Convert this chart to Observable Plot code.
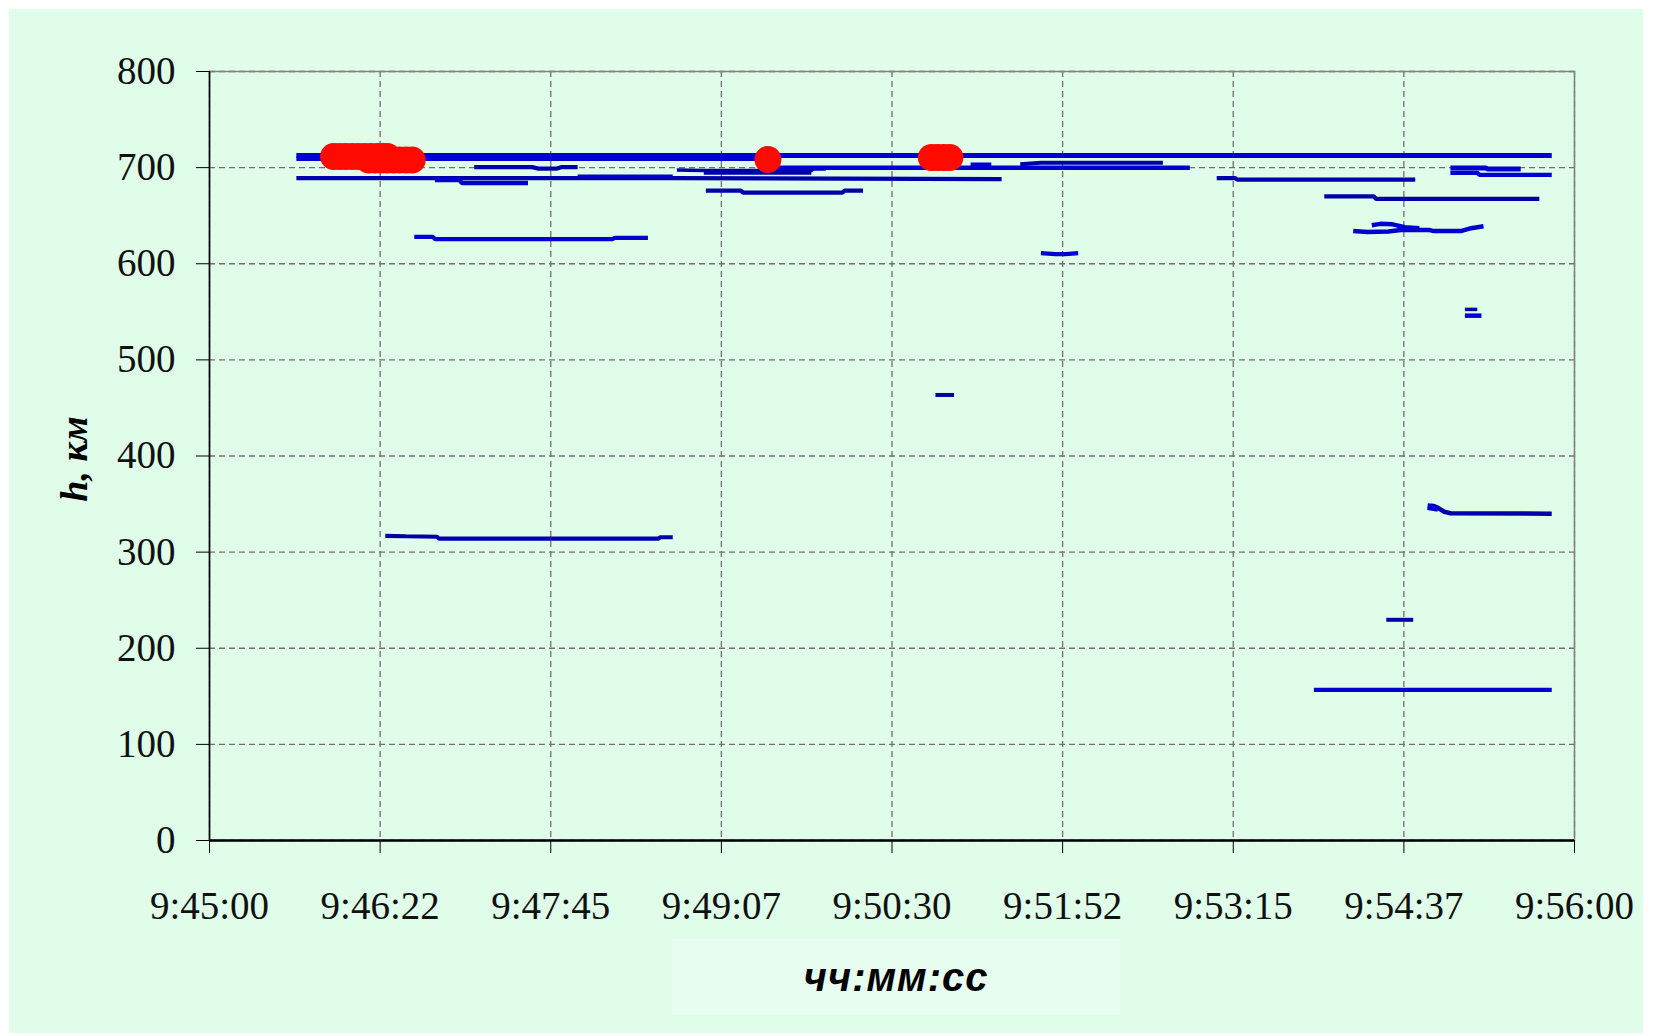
<!DOCTYPE html>
<html>
<head>
<meta charset="utf-8">
<script src="https://cdn.jsdelivr.net/npm/d3@7"></script>
<script src="https://cdn.jsdelivr.net/npm/@observablehq/plot@0.6"></script>
<style>
  html, body { margin: 0; padding: 0; background: #ffffff; }
  #wrap { position: relative; width: 1654px; height: 1036px; overflow: hidden; }
  #bg { position: absolute; left: 9px; top: 9px; width: 1634px; height: 1024px; background: #dffde8; }
  #xbox { position: absolute; left: 672px; top: 939px; width: 448px; height: 76px; background: #e6fdef; }
  #chart { position: absolute; left: 0; top: 0; }
  #xtitle { position: absolute; left: 672px; top: 939px; width: 448px; height: 76px;
    display: flex; align-items: center; justify-content: center; letter-spacing: 1px;
    font: italic bold 40px "Liberation Sans", Arial, sans-serif; color: #000; }
  #ytitle { position: absolute; left: 74px; top: 459px; transform: translate(-50%, -50%) rotate(-90deg);
    white-space: nowrap; font: italic bold 38px "Liberation Serif", "Times New Roman", serif; color: #000; }
</style>
</head>
<body>
<div id="wrap">
  <div id="bg"></div>
  <div id="xbox"></div>
  <div id="chart"></div>
  <div id="xtitle">чч:мм:сс</div>
  <div id="ytitle">h, км</div>
</div>
<script>
// ---- axis ticks (time in seconds after 9:45:00) ----
const xTickValues = [0, 82.5, 165, 247.5, 330, 412.5, 495, 577.5, 660];
const xTickLabels = ["9:45:00", "9:46:22", "9:47:45", "9:49:07", "9:50:30", "9:51:52", "9:53:15", "9:54:37", "9:56:00"];
const yTickValues = [0, 100, 200, 300, 400, 500, 600, 700, 800];

// ---- blue tracks: [seconds after 9:45:00, height km] ----
const trackTop713 = [[42, 712.7], [649, 712.7]];
const trackTop709 = [[42, 709.3], [266, 709.3]];
const track700a   = [[128, 700.5], [156, 700.5], [159, 699], [168, 699], [170, 700.5], [178, 700.5]];
const track697    = [[226, 697.5], [239, 697], [291, 697], [292, 698.5], [298, 698.5]];
const track694    = [[239, 694.5], [291, 694.5]];
const track700b   = [[274, 700], [474, 700]];
const track703    = [[368, 703], [378, 703]];
const track705    = [[392, 703.5], [402, 705], [461, 705]];
const track689    = [[42, 689], [178, 689], [224, 689], [383, 688]];
const track691    = [[178, 691], [224, 691]];
const track685    = [[109, 687], [121, 687], [122, 684], [154, 684]];
const track675    = [[240, 676], [257, 676], [258, 674], [306, 674], [307, 676], [316, 676]];
const track626    = [[99, 628], [108, 628], [109, 625.7], [195, 625.7], [196, 627], [212, 627]];
const track315    = [[85, 317], [95, 316.5], [110, 316], [111, 314], [217, 314], [218, 315.5], [224, 315.5]];
const track610    = [[402, 611], [409, 610], [414, 610], [420, 611]];
const track463    = [[351, 463.5], [360, 463.5]];
const track688r   = [[487, 689], [496, 689], [497, 687.5], [583, 687.5]];
const track699r   = [[600, 699.5], [617, 699.5], [618, 698.5], [634, 698.5]];
const track693r   = [[600, 694.5], [613, 694.5], [614, 692.5], [649, 692.5]];
const track670r   = [[539, 670], [563, 670], [564, 667.5], [643, 667.5]];
const track636    = [[553, 634], [560, 633], [570, 633.5], [576, 635], [590, 635], [592, 634], [605, 634], [610, 637], [616, 639]];
const track641    = [[562, 640], [566, 641.5], [572, 641], [578, 638], [585, 637]];
const track552    = [[607, 552.5], [613, 552.5]];
const track546    = [[607, 546], [615, 546]];
const track340    = [[589, 348.5], [592, 348], [594, 346], [597, 342], [600, 340.5], [649, 340]];
const track340b   = [[589, 347], [594, 345]];
const track230    = [[569, 229.6], [582, 229.6]];
const track157    = [[534, 156.7], [649, 156.7]];

// ---- red points: [seconds after 9:45:00, height km] ----
const redPoints = [
  [60, 711.5], [63, 711.5], [66, 711.5], [69, 711.5], [72, 711.5], [75, 711.5], [78, 711.5], [81, 711.5], [84, 711.5], [86, 711.5],
  [77, 708], [80, 708], [83, 708], [86, 708], [89, 708], [92, 708], [95, 708], [98, 708],
  [270, 708.5],
  [349, 710.5], [352, 710.5], [355, 710.5], [358, 710.5]
];

// ---- styles (kept apart from data) ----
const BLUE = "#0000d2", NAVY = "#0000aa";
const trackStyles = [
  [trackTop713, 5, BLUE], [trackTop709, 4.5, BLUE],
  [track700a, 4.2, NAVY], [track697, 3.5, NAVY], [track694, 3.5, NAVY],
  [track700b, 4.5, BLUE], [track703, 4.5, BLUE], [track705, 4, NAVY],
  [track689, 4.2, NAVY], [track691, 3.5, BLUE], [track685, 4.5, BLUE],
  [track675, 4.2, NAVY], [track626, 4.2, BLUE], [track315, 4.2, NAVY],
  [track610, 4.2, BLUE], [track463, 4, NAVY], [track688r, 4.2, NAVY],
  [track699r, 5, BLUE], [track693r, 4.2, BLUE], [track670r, 4.2, NAVY],
  [track636, 4.5, BLUE], [track641, 4.5, BLUE], [track552, 3.5, NAVY], [track546, 4.5, BLUE],
  [track340, 4.5, NAVY], [track340b, 6, BLUE], [track230, 4, NAVY], [track157, 4.2, BLUE]
];

const lineMarks = trackStyles.map(([pts, w, c]) =>
  Plot.line(pts, {x: d => d[0], y: d => d[1], stroke: c, strokeWidth: w, strokeLinecap: "butt", strokeLinejoin: "miter"})
);

const chart = Plot.plot({
  width: 1654,
  height: 1036,
  marginLeft: 209,
  marginRight: 80,
  marginTop: 71,
  marginBottom: 196,
  x: {domain: [0, 660]},
  y: {domain: [0, 800]},
  style: {background: "transparent", fontFamily: "'Liberation Serif', 'Times New Roman', serif", fontSize: "39px", color: "#111"},
  marks: [
    Plot.gridX(xTickValues, {stroke: "#707070", strokeOpacity: 1, strokeWidth: 1.3, strokeDasharray: "6,4"}),
    Plot.gridY(yTickValues, {stroke: "#707070", strokeOpacity: 1, strokeWidth: 1.3, strokeDasharray: "6,4"}),
    Plot.frame({stroke: "#808080", strokeWidth: 1.5}),
    ...lineMarks,
    Plot.dot(redPoints, {x: d => d[0], y: d => d[1], r: 13.5, fill: "#ff0a00", stroke: "none"}),
    Plot.ruleX([0], {stroke: "#000", strokeWidth: 1.5}),
    Plot.ruleY([0], {stroke: "#000", strokeWidth: 2.5}),
    Plot.axisY(yTickValues, {tickSize: 13, tickPadding: 21, label: null, stroke: "#000"}),
    Plot.axisX(xTickValues, {tickSize: 13, tickPadding: 38, label: null, stroke: "#000",
      tickFormat: d => xTickLabels[xTickValues.indexOf(d)]})
  ]
});
document.getElementById("chart").appendChild(chart);
</script>
</body>
</html>
